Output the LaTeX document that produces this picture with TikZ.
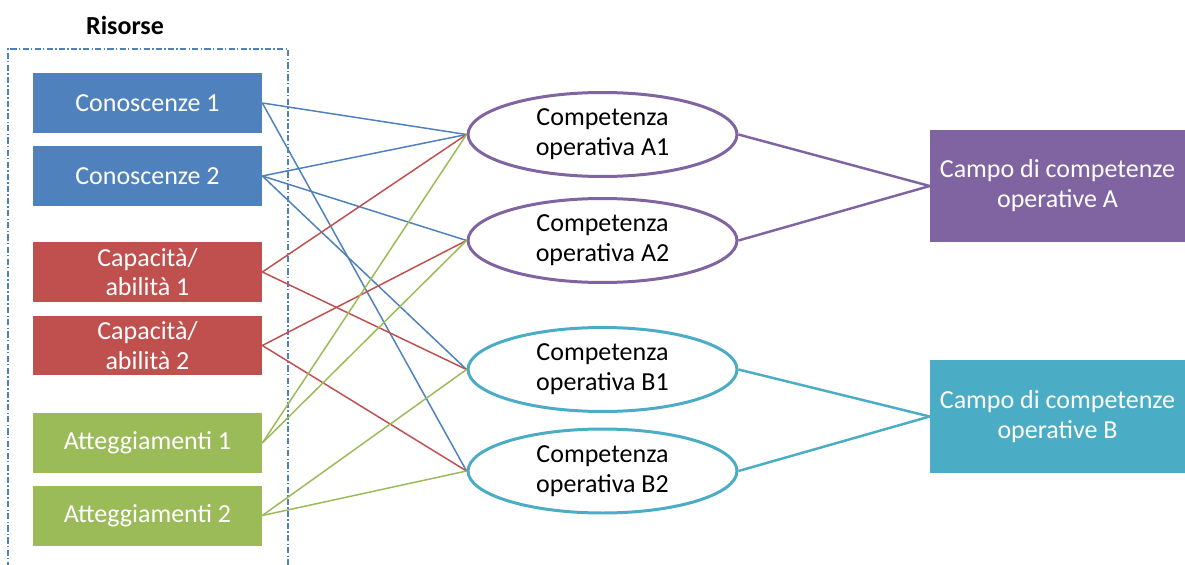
\documentclass[tikz,border=0pt]{standalone}
\usepackage{fontspec}
\setmainfont{Carlito}
\usepackage{tikz}
\usetikzlibrary{shapes}
\definecolor{blu}{HTML}{4F81BD}
\definecolor{rosso}{HTML}{C0504D}
\definecolor{verde}{HTML}{9BBB59}
\definecolor{viola}{HTML}{8064A2}
\definecolor{acqua}{HTML}{4BACC6}
\tikzset{-,every node/.style={font=\fontsize{14.8}{17}\selectfont,align=center,inner sep=0pt},
  res/.style={rectangle,minimum width=4.58cm,minimum height=1.2cm,text=white},
  comp/.style={ellipse,draw,line width=1.7pt,fill=white,minimum width=5.38cm,minimum height=1.68cm},
  campo/.style={rectangle,minimum width=5.1cm,minimum height=2.25cm,text=white},
  link/.style={line width=0.85pt},
  bold link/.style={line width=1.4pt}}

\begin{document}
\begin{tikzpicture}[x=0.02cm,y=-0.02cm]
    \useasboundingbox (0,0) rectangle (1185,564);
    \draw[blu,dash pattern=on 3.5pt off 1.3pt on 0.8pt off 1.3pt,line width=0.6pt] (8,580) |- (288,49) -- (288,580);
    \node[font=\fontsize{14.8}{17}\selectfont\bfseries] (R) at (125,25) {Risorse};
    % risorse
    \node[res,fill=blu] (1) at (147.5,103) {Conoscenze 1};
    \node[res,fill=blu] (2) at (147.5,176) {Conoscenze 2};
    \node[res,fill=rosso] (3) at (147.5,272) {Capacit\`a/\\abilit\`a 1};
    \node[res,fill=rosso] (4) at (147.5,345.5) {Capacit\`a/\\abilit\`a 2};
    \node[res,fill=verde] (5) at (147.5,443) {Atteggiamenti 1};
    \node[res,fill=verde] (6) at (147.5,515.5) {Atteggiamenti 2};
    % competenze
    \node[comp,draw=viola] (A1) at (602.5,134.5) {Competenza\\operativa A1};
    \node[comp,draw=viola] (A2) at (602.5,240.5) {Competenza\\operativa A2};
    \node[comp,draw=acqua] (B1) at (602.5,369.5) {Competenza\\operativa B1};
    \node[comp,draw=acqua] (B2) at (602.5,471) {Competenza\\operativa B2};
    % campi
    \node[campo,fill=viola] (A) at (1057.5,186) {Campo di competenze\\operative A};
    \node[campo,fill=acqua] (B) at (1057.5,416.5) {Campo di competenze\\operative B};
    \path[link,blu]
    (1.east) edge (A1.west)
    (1.east) edge (B2.west)
    (2.east) edge (A1.west)
    (2.east) edge (A2.west)
    (2.east) edge (B1.west)
    ;
    \path[link,rosso]
    (3.east) edge (A1.west)
    (3.east) edge (B1.west)
    (4.east) edge (A2.west)
    (4.east) edge (B2.west)
    ;
    \path[link,verde]
    (5.east) edge (A1.west)
    (5.east) edge (A2.west)
    (6.east) edge (B1.west)
    (6.east) edge (B2.west)
    ;
    \path[bold link,viola]
    (A1.east) edge (A.west)
    (A2.east) edge (A.west)
    ;
    \path[bold link,acqua]
    (B1.east) edge (B.west)
    (B2.east) edge (B.west)
    ;
\end{tikzpicture}
\end{document}
